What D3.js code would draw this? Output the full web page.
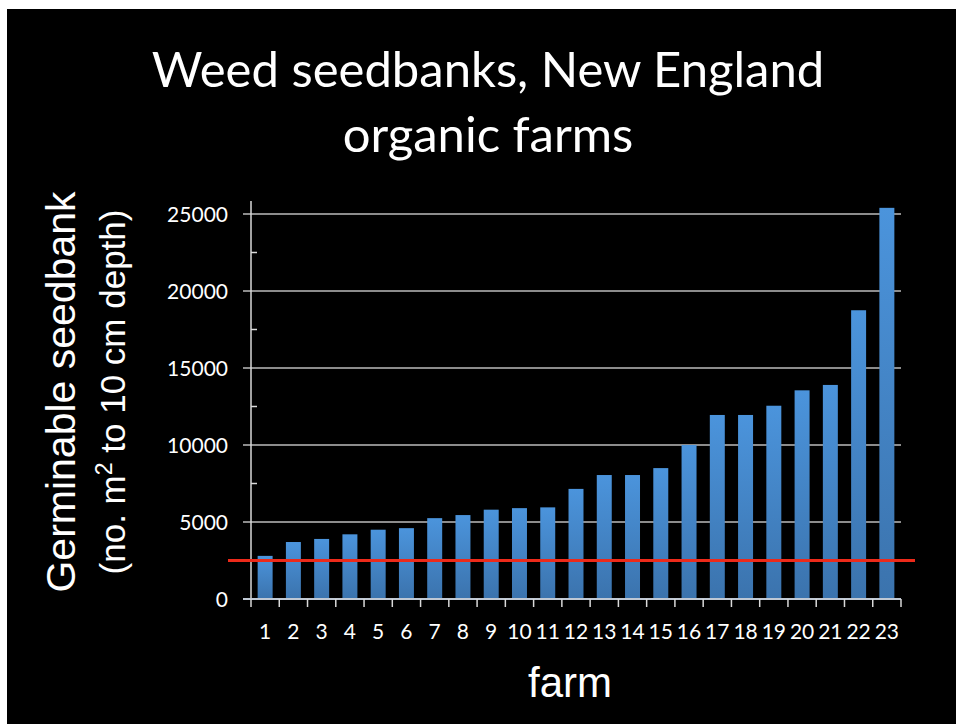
<!DOCTYPE html>
<html>
<head>
<meta charset="utf-8">
<script src="https://cdn.jsdelivr.net/npm/d3@7"></script>
<style>
  body { margin: 0; background: #fff; }
  svg { display: block; }
</style>
</head>
<body>
<div id="chart"></div>
<script>
// farms, sorted by seedbank size
var farms = d3.range(1, 24).map(String);
var seedbank = [2800, 3700, 3900, 4200, 4500, 4600, 5250, 5450, 5800, 5900, 5950,
                7150, 8050, 8050, 8500, 10000, 11950, 11950, 12550, 13550, 13900, 18750, 25400];
var yTicks = [0, 5000, 10000, 15000, 20000, 25000];
var threshold = 2500;

var width = 956, height = 724;
var plot = { left: 251, right: 901, top: 199, bottom: 599 };
var calibriish = "Lato, 'Open Sans', sans-serif";
var arialish = "'Liberation Sans', Arial, sans-serif";

var svg = d3.select("#chart").append("svg")
  .attr("width", width)
  .attr("height", height);

// slide background
svg.append("rect")
  .attr("x", 7).attr("y", 9)
  .attr("width", width - 7).attr("height", height - 9)
  .attr("fill", "#000");

var x = d3.scaleBand()
  .domain(farms)
  .range([plot.left, plot.right])
  .paddingInner(0.47)
  .paddingOuter(0.235);

var y = d3.scaleLinear()
  .domain([0, 26000])
  .range([plot.bottom, plot.bottom - 26000 / 5000 * 77]);

var defs = svg.append("defs");
var grad = defs.append("linearGradient")
  .attr("id", "barGrad")
  .attr("x1", 0).attr("y1", 0).attr("x2", 0).attr("y2", 1);
grad.append("stop").attr("offset", "0%").attr("stop-color", "#4b94dc");
grad.append("stop").attr("offset", "100%").attr("stop-color", "#3b73ad");

// gridlines
svg.append("g")
  .selectAll("line")
  .data(yTicks.slice(1))
  .enter()
  .append("line")
  .attr("x1", plot.left - 8)
  .attr("x2", plot.right)
  .attr("y1", function (d) { return y(d); })
  .attr("y2", function (d) { return y(d); })
  .attr("stroke", "#8c8c8c")
  .attr("stroke-width", 2);

// y axis with minor ticks inside
var yAxis = svg.append("g")
  .attr("transform", "translate(" + plot.left + ",0)");
yAxis.append("line")
  .attr("y1", y(0)).attr("y2", plot.top + 2)
  .attr("stroke", "#d9d9d9").attr("stroke-width", 1.5);
yAxis.selectAll(".minor")
  .data(d3.range(2500, 25001, 5000))
  .enter()
  .append("line")
  .attr("x1", 0).attr("x2", 6)
  .attr("y1", function (d) { return y(d); })
  .attr("y2", function (d) { return y(d); })
  .attr("stroke", "#d9d9d9").attr("stroke-width", 1.5);
yAxis.selectAll("text")
  .data(yTicks)
  .enter()
  .append("text")
  .attr("x", -23)
  .attr("y", function (d) { return y(d) + 8; })
  .attr("text-anchor", "end")
  .attr("fill", "#fff")
  .style("font-family", calibriish)
  .style("font-size", "21px")
  .text(function (d) { return d; });

// bars
svg.append("g")
  .selectAll("rect")
  .data(seedbank)
  .enter()
  .append("rect")
  .attr("x", function (d, i) { return x(farms[i]); })
  .attr("width", x.bandwidth())
  .attr("y", function (d) { return y(d); })
  .attr("height", function (d) { return y(0) - y(d); })
  .attr("fill", "url(#barGrad)");

// x axis
var xAxis = svg.append("g");
xAxis.append("line")
  .attr("x1", plot.left - 8).attr("x2", plot.right)
  .attr("y1", y(0)).attr("y2", y(0))
  .attr("stroke", "#bfc8d4").attr("stroke-width", 2);
xAxis.selectAll(".tick")
  .data(d3.range(0, farms.length + 1))
  .enter()
  .append("line")
  .attr("x1", function (d) { return plot.left + d * (plot.right - plot.left) / farms.length; })
  .attr("x2", function (d) { return plot.left + d * (plot.right - plot.left) / farms.length; })
  .attr("y1", y(0)).attr("y2", y(0) + 8)
  .attr("stroke", "#d9d9d9").attr("stroke-width", 1.5);
xAxis.selectAll("text")
  .data(farms)
  .enter()
  .append("text")
  .attr("x", function (d) { return x(d) + x.bandwidth() / 2; })
  .attr("y", 639)
  .attr("text-anchor", "middle")
  .attr("fill", "#fff")
  .style("font-family", calibriish)
  .style("font-size", "21px")
  .text(function (d) { return d; });

// red threshold line
svg.append("line")
  .attr("x1", 228).attr("x2", 915)
  .attr("y1", y(threshold)).attr("y2", y(threshold))
  .attr("stroke", "#ec2a1a")
  .attr("stroke-width", 3);

// title
var title = svg.append("text")
  .attr("text-anchor", "middle")
  .attr("fill", "#fff")
  .style("font-family", calibriish)
  .style("font-size", "49px");
title.append("tspan").attr("x", 488).attr("y", 87).text("Weed seedbanks, New England");
title.append("tspan").attr("x", 488).attr("y", 152).text("organic farms");

// axis titles
svg.append("text")
  .attr("transform", "translate(75,392) rotate(-90)")
  .attr("text-anchor", "middle")
  .attr("fill", "#fff")
  .style("font-family", arialish)
  .style("font-size", "41px")
  .text("Germinable seedbank");

var sub = svg.append("text")
  .attr("transform", "translate(125,392) rotate(-90)")
  .attr("text-anchor", "middle")
  .attr("fill", "#fff")
  .style("font-family", arialish)
  .style("font-size", "35px");
sub.append("tspan").text("(no. m");
sub.append("tspan").attr("dy", -13).style("font-size", "23px").text("2");
sub.append("tspan").attr("dy", 13).text(" to 10 cm depth)");

svg.append("text")
  .attr("x", 570)
  .attr("y", 697)
  .attr("text-anchor", "middle")
  .attr("fill", "#fff")
  .style("font-family", arialish)
  .style("font-size", "42px")
  .text("farm");
</script>
</body>
</html>
